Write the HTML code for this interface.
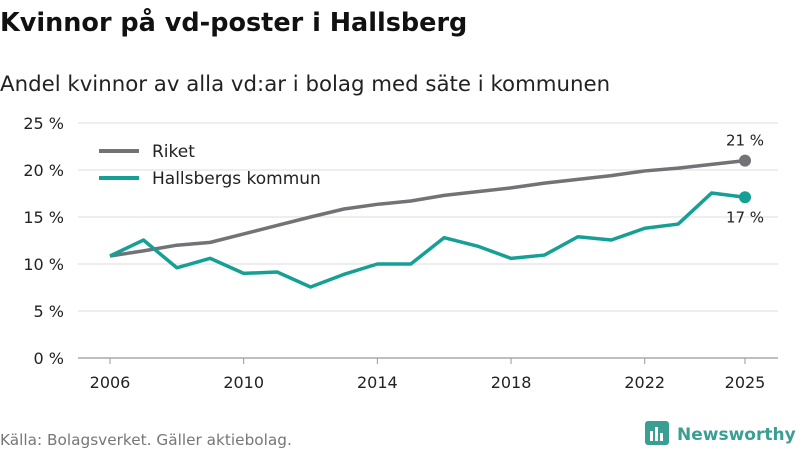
<!DOCTYPE html>
<html><head><meta charset="utf-8"><style>
body{margin:0;background:#fff;font-family:"DejaVu Sans","Liberation Sans",sans-serif;}
#wrap{position:relative;width:800px;height:450px;overflow:hidden;}
</style></head><body>
<div id="wrap">
<svg id="chart" width="800" height="450">
<text x="0" y="31" font-size="25.5" font-weight="bold" fill="#111">Kvinnor på vd-poster i Hallsberg</text>
<text x="0" y="91" font-size="21.3" fill="#222">Andel kvinnor av alla vd:ar i bolag med säte i kommunen</text>
<text x="0" y="445" font-size="15.3" fill="#777">Källa: Bolagsverket. Gäller aktiebolag.</text>
<g>
<rect x="645" y="421" width="24" height="24" rx="3" fill="#3a9e92"/>
<rect x="650" y="431" width="3" height="10" fill="#fff"/><rect x="655" y="427" width="3" height="14" fill="#fff"/><rect x="660" y="433" width="3" height="8" fill="#fff"/>
<text x="677" y="440" font-size="17" font-weight="bold" fill="#3a9e92">Newsworthy</text>
</g>
<g id="grid"></g><g id="lines"></g>
<g>
<line x1="99" y1="151" x2="139" y2="151" stroke="#737276" stroke-width="4"/>
<text x="152" y="157" font-size="17" fill="#222">Riket</text>
<line x1="99" y1="178" x2="139" y2="178" stroke="#16a095" stroke-width="4"/>
<text x="152" y="184" font-size="17" fill="#222">Hallsbergs kommun</text>
</g>
</svg>
</div>
<script>
const years=[2006,2007,2008,2009,2010,2011,2012,2013,2014,2015,2016,2017,2018,2019,2020,2021,2022,2023,2024,2025];
const riket=[10.85,11.4,12.0,12.3,13.2,14.1,15.0,15.85,16.35,16.7,17.3,17.7,18.1,18.6,19.0,19.4,19.9,20.2,20.6,21.0];
const hallsberg=[10.85,12.55,9.6,10.6,9.0,9.15,7.55,8.9,10.0,10.0,12.8,11.9,10.6,10.95,12.9,12.55,13.8,14.25,17.55,17.1];
const yTicks=[0,5,10,15,20,25];
const xTicks=[2006,2010,2014,2018,2022,2025];
const NS='http://www.w3.org/2000/svg';
const x=v=>110+(v-2006)*(745-110)/19;
const y=v=>358-v*9.4;
function mk(t,a,p){const e=document.createElementNS(NS,t);for(const k in a)e.setAttribute(k,a[k]);p.appendChild(e);return e;}
const grid=document.getElementById('grid'),lines=document.getElementById('lines');
yTicks.forEach(v=>{
 const l=mk('line',{x1:78,x2:778,y1:y(v),y2:y(v),stroke:v===0?'#999':'#ddd','stroke-width':v===0?1.2:1},grid);
 
 
 const t=mk('text',{x:64,y:y(v)+6,'font-size':16,fill:'#222','text-anchor':'end'},grid);t.textContent=v+' %';
 
 
});
xTicks.forEach(v=>{
 const k=mk('line',{x1:x(v),x2:x(v),y1:358,y2:364,stroke:'#999'},grid);
 
 
 const t=mk('text',{x:x(v),y:388,'font-size':16,fill:'#222','text-anchor':'middle'},grid);t.textContent=v;
 
 
});
function series(vals,col,name,labDy){
 const p=mk('polyline',{points:vals.map((v,i)=>x(years[i])+','+y(v)).join(' '),fill:'none',stroke:col,'stroke-width':3.5,'stroke-linejoin':'round'},lines);
 
 
 const n=vals.length-1;
 const c=mk('circle',{cx:x(years[n]),cy:y(vals[n]),r:6,fill:col},lines);
 
 
 const t=mk('text',{x:x(years[n]),y:y(vals[n])+labDy,'font-size':15,fill:'#222','text-anchor':'middle'},lines);
 t.textContent=Math.round(vals[n])+' %';
 
 
}
series(riket,'#737276','riket',-15);
series(hallsberg,'#16a095','hallsberg',25);
</script>
</body></html>
